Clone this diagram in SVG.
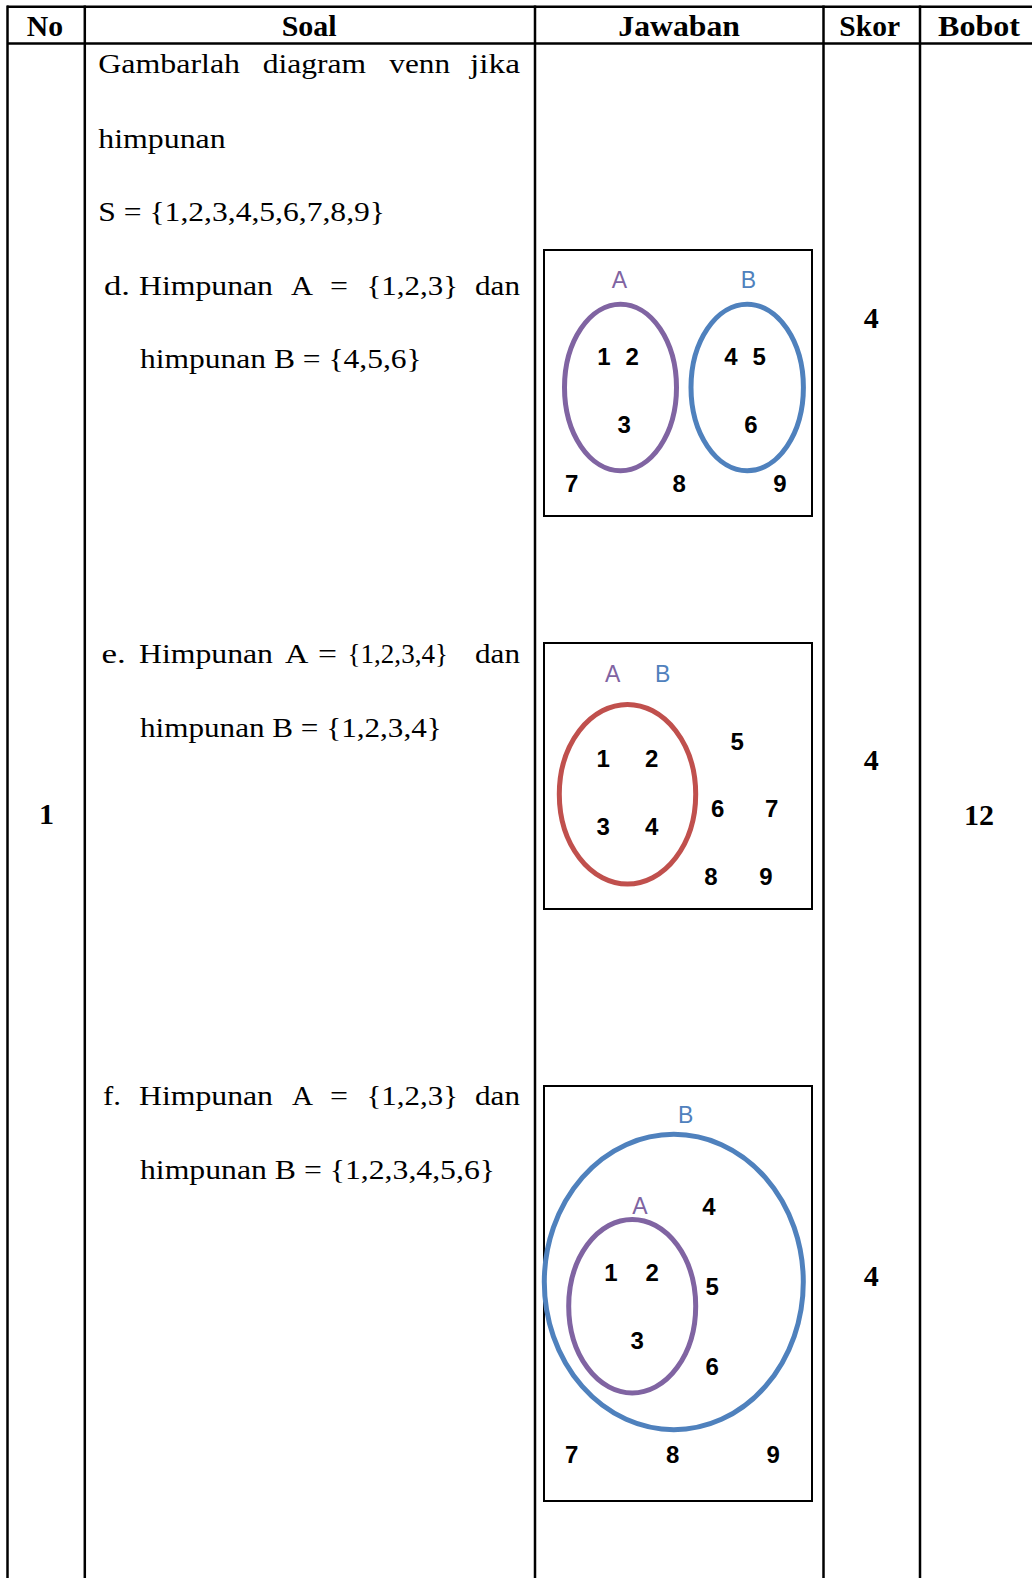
<svg xmlns="http://www.w3.org/2000/svg" width="1032" height="1578" viewBox="0 0 1032 1578">
<style>
.grid{stroke:#000;stroke-width:2.5;fill:none}
.hd{font-family:"Liberation Serif","Times New Roman",serif;font-weight:bold;font-size:30px;fill:#000}
.tx{font-family:"Liberation Serif","Times New Roman",serif;font-size:27px;fill:#000}
.box{fill:#fff;stroke:#000;stroke-width:2}
.num{font-family:"Liberation Sans",Arial,sans-serif;font-weight:bold;font-size:24px;fill:#000;text-anchor:middle}
.lbl{font-family:"Liberation Sans",Arial,sans-serif;font-size:23px;text-anchor:middle}
.pa{fill:#8064A2}.pb{fill:#4F81BD}
.ep{fill:none;stroke:#8064A2;stroke-width:5}
.eb{fill:none;stroke:#4F81BD;stroke-width:5}
.er{fill:none;stroke:#C0504D;stroke-width:5}
</style>
<rect width="1032" height="1578" fill="#fff"/>
<g id="table">
<line class="grid" x1="7" y1="6.7" x2="1032" y2="6.7"/>
<line class="grid" x1="7" y1="43.5" x2="1032" y2="43.5"/>
<line class="grid" x1="7.5" y1="5.5" x2="7.5" y2="1578"/>
<line class="grid" x1="84.8" y1="5.5" x2="84.8" y2="1578"/>
<line class="grid" x1="535" y1="5.5" x2="535" y2="1578"/>
<line class="grid" x1="823.5" y1="5.5" x2="823.5" y2="1578"/>
<line class="grid" x1="920" y1="5.5" x2="920" y2="1578"/>
</g>
<g id="header">
<text class="hd" x="26.7" y="36" textLength="36.3" lengthAdjust="spacingAndGlyphs">No</text>
<text class="hd" x="281.7" y="36" textLength="55" lengthAdjust="spacingAndGlyphs">Soal</text>
<text class="hd" x="618.3" y="36" textLength="121.7" lengthAdjust="spacingAndGlyphs">Jawaban</text>
<text class="hd" x="839.3" y="36" textLength="60.7" lengthAdjust="spacingAndGlyphs">Skor</text>
<text class="hd" x="938" y="36" textLength="82" lengthAdjust="spacingAndGlyphs">Bobot</text>
</g>
<g id="no">
<text class="hd" x="46.5" y="824" text-anchor="middle">1</text>
</g>
<g id="soal">
<text class="tx" x="98.3" y="73" textLength="141.7" lengthAdjust="spacingAndGlyphs">Gambarlah</text>
<text class="tx" x="262.7" y="73" textLength="103.3" lengthAdjust="spacingAndGlyphs">diagram</text>
<text class="tx" x="389.3" y="73" textLength="60.7" lengthAdjust="spacingAndGlyphs">venn</text>
<text class="tx" x="470" y="73" textLength="50" lengthAdjust="spacingAndGlyphs">jika</text>
<text class="tx" x="98.3" y="148.3" textLength="127.4" lengthAdjust="spacingAndGlyphs">himpunan</text>
<text class="tx" x="98.3" y="221" textLength="286.7" lengthAdjust="spacingAndGlyphs">S = {1,2,3,4,5,6,7,8,9}</text>
<text class="tx" x="104" y="295" textLength="26" lengthAdjust="spacingAndGlyphs">d.</text>
<text class="tx" x="139" y="295" textLength="134" lengthAdjust="spacingAndGlyphs">Himpunan</text>
<text class="tx" x="291" y="295" textLength="22" lengthAdjust="spacingAndGlyphs">A</text>
<text class="tx" x="330" y="295" textLength="18" lengthAdjust="spacingAndGlyphs">=</text>
<text class="tx" x="366.5" y="295" textLength="91.5" lengthAdjust="spacingAndGlyphs">{1,2,3}</text>
<text class="tx" x="475" y="295" textLength="45" lengthAdjust="spacingAndGlyphs">dan</text>
<text class="tx" x="140" y="367.5" textLength="281.7" lengthAdjust="spacingAndGlyphs">himpunan B = {4,5,6}</text>
<text class="tx" x="101.5" y="663" textLength="24.3" lengthAdjust="spacingAndGlyphs">e.</text>
<text class="tx" x="139" y="663" textLength="134" lengthAdjust="spacingAndGlyphs">Himpunan</text>
<text class="tx" x="285" y="663" textLength="23.4" lengthAdjust="spacingAndGlyphs">A</text>
<text class="tx" x="318" y="663" textLength="19" lengthAdjust="spacingAndGlyphs">=</text>
<text class="tx" x="347.5" y="663" textLength="100.5" lengthAdjust="spacingAndGlyphs">{1,2,3,4}</text>
<text class="tx" x="475" y="663" textLength="45" lengthAdjust="spacingAndGlyphs">dan</text>
<text class="tx" x="140" y="737" textLength="301.7" lengthAdjust="spacingAndGlyphs">himpunan B = {1,2,3,4}</text>
<text class="tx" x="103" y="1105" textLength="18" lengthAdjust="spacingAndGlyphs">f.</text>
<text class="tx" x="139" y="1105" textLength="134" lengthAdjust="spacingAndGlyphs">Himpunan</text>
<text class="tx" x="292" y="1105" textLength="21" lengthAdjust="spacingAndGlyphs">A</text>
<text class="tx" x="330" y="1105" textLength="18" lengthAdjust="spacingAndGlyphs">=</text>
<text class="tx" x="366.5" y="1105" textLength="91.5" lengthAdjust="spacingAndGlyphs">{1,2,3}</text>
<text class="tx" x="475" y="1105" textLength="45" lengthAdjust="spacingAndGlyphs">dan</text>
<text class="tx" x="140" y="1179" textLength="355" lengthAdjust="spacingAndGlyphs">himpunan B = {1,2,3,4,5,6}</text>
</g>
<g id="venn-d">
<rect class="box" x="544" y="250" width="268" height="266"/>
<text class="lbl pa" x="619.3" y="288.3">A</text>
<text class="lbl pb" x="748.3" y="288.3">B</text>
<ellipse class="ep" cx="620.5" cy="387.5" rx="56" ry="83.2"/>
<ellipse class="eb" cx="747.2" cy="387.5" rx="56.2" ry="83.2"/>
<text class="num" x="604" y="365">1</text>
<text class="num" x="632.3" y="365">2</text>
<text class="num" x="624.3" y="433">3</text>
<text class="num" x="731" y="365">4</text>
<text class="num" x="759.3" y="365">5</text>
<text class="num" x="751" y="433">6</text>
<text class="num" x="571.7" y="491.7">7</text>
<text class="num" x="679.3" y="491.7">8</text>
<text class="num" x="780" y="491.7">9</text>
</g>
<g id="venn-e">
<rect class="box" x="544" y="643" width="268" height="266"/>
<text class="lbl pa" x="612.7" y="681.7">A</text>
<text class="lbl pb" x="662.7" y="681.7">B</text>
<ellipse class="er" cx="627.5" cy="794.2" rx="68.2" ry="89.8"/>
<text class="num" x="603.3" y="767">1</text>
<text class="num" x="651.7" y="767">2</text>
<text class="num" x="603.3" y="834.5">3</text>
<text class="num" x="651.7" y="834.5">4</text>
<text class="num" x="737.3" y="749.5">5</text>
<text class="num" x="717.7" y="817">6</text>
<text class="num" x="771.7" y="817">7</text>
<text class="num" x="711" y="884.5">8</text>
<text class="num" x="766" y="884.5">9</text>
</g>
<g id="venn-f">
<rect class="box" x="544" y="1086" width="268" height="415"/>
<text class="lbl pb" x="685.7" y="1123.3">B</text>
<ellipse class="eb" cx="673.8" cy="1282" rx="129.5" ry="147.7"/>
<text class="lbl pa" x="640" y="1214.3">A</text>
<ellipse class="ep" cx="632.2" cy="1306.2" rx="63.5" ry="86.8"/>
<text class="num" x="709" y="1214.5">4</text>
<text class="num" x="611" y="1281">1</text>
<text class="num" x="652.3" y="1281">2</text>
<text class="num" x="712.3" y="1294.5">5</text>
<text class="num" x="637.3" y="1348.5">3</text>
<text class="num" x="712.3" y="1374.5">6</text>
<text class="num" x="571.7" y="1463">7</text>
<text class="num" x="672.7" y="1463">8</text>
<text class="num" x="773.3" y="1463">9</text>
</g>
<g id="skor">
<text class="hd" x="871.3" y="328.3" text-anchor="middle">4</text>
<text class="hd" x="871.3" y="769.6" text-anchor="middle">4</text>
<text class="hd" x="871.3" y="1286" text-anchor="middle">4</text>
</g>
<g id="bobot">
<text class="hd" x="979" y="825" text-anchor="middle">12</text>
</g>
</svg>
